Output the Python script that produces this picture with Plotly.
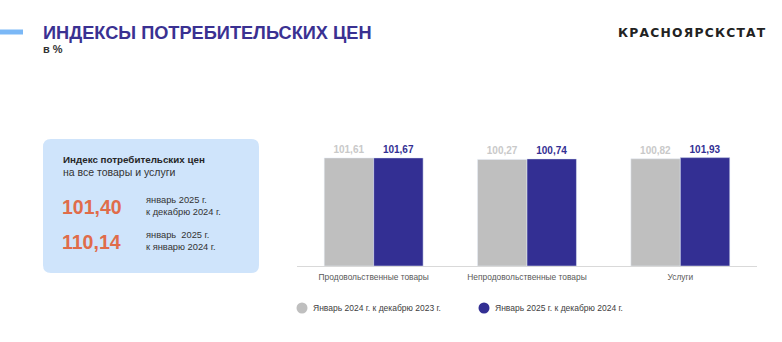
import plotly.graph_objects as go

W, H = 782, 342

categories = ["Продовольственные товары", "Непродовольственные товары", "Услуги"]
series_names = ["Январь 2024 г. к декабрю 2023 г.", "Январь 2025 г. к декабрю 2024 г."]
values_2024 = [101.61, 100.27, 100.82]
values_2025 = [101.67, 100.74, 101.93]
cpi_month = 101.40
cpi_year = 110.14

GRAY = "#bfbfbf"
BLUE = "#332f93"
FONT = "Liberation Sans, Arial, sans-serif"

def px(x):
    return x / W

def py(y):
    return 1 - y / H

def fmt(v):
    return f"{v:.2f}".replace(".", ",")

fig = go.Figure()
fig.add_trace(go.Bar(x=categories, y=values_2024, marker_color=GRAY, name=series_names[0],
                     text=[f"<b>{fmt(v)}</b>" for v in values_2024], textposition="outside",
                     textfont=dict(color="#c9c9c9", size=10, family=FONT),
                     cliponaxis=False, showlegend=False))
fig.add_trace(go.Bar(x=categories, y=values_2025, marker_color=BLUE, name=series_names[1],
                     text=[f"<b>{fmt(v)}</b>" for v in values_2025], textposition="outside",
                     textfont=dict(color=BLUE, size=10, family=FONT),
                     cliponaxis=False, showlegend=False))

shapes = []
# blue accent line
shapes.append(dict(type="line", xref="paper", yref="paper", x0=px(0), x1=px(23), y0=py(32), y1=py(32),
                   line=dict(color="#7bb8f6", width=5)))
# info box with rounded corners
x0, x1, y0, y1, r = 43, 259, 139, 273, 8
path = (f"M {px(x0 + r)},{py(y0)} L {px(x1 - r)},{py(y0)} Q {px(x1)},{py(y0)} {px(x1)},{py(y0 + r)} "
        f"L {px(x1)},{py(y1 - r)} Q {px(x1)},{py(y1)} {px(x1 - r)},{py(y1)} "
        f"L {px(x0 + r)},{py(y1)} Q {px(x0)},{py(y1)} {px(x0)},{py(y1 - r)} "
        f"L {px(x0)},{py(y0 + r)} Q {px(x0)},{py(y0)} {px(x0 + r)},{py(y0)} Z")
shapes.append(dict(type="path", xref="paper", yref="paper", path=path,
                   fillcolor="#cfe4fb", line=dict(width=0), layer="below"))

ann = []
def text(x, y, s, size, color, anchor="left", yanchor="middle", family=FONT):
    ann.append(dict(x=px(x), y=py(y), xref="paper", yref="paper", text=s, showarrow=False,
                    xanchor=anchor, yanchor=yanchor, font=dict(size=size, color=color, family=family)))

# manual legend (circle markers)
legend_x = [302, 484]
for cx, col, name in zip(legend_x, [GRAY, BLUE], series_names):
    shapes.append(dict(type="circle", xref="paper", yref="paper", xsizemode="pixel", ysizemode="pixel",
                       xanchor=px(cx), yanchor=py(308), x0=-5.5, x1=5.5, y0=-5.5, y1=5.5,
                       fillcolor=col, line=dict(width=0)))
    text(cx + 9, 308, name, 8.5, "#404040")

text(41, 33, "<b>ИНДЕКСЫ ПОТРЕБИТЕЛЬСКИХ ЦЕН</b>", 18.2, "#3a3192")
text(41, 49, "<b>в %</b>", 11, "#333333")
text(768, 33, "<b>" + "\u200a".join("КРАСНОЯРСКСТАТ") + "</b>", 12.3, "#222222", anchor="right",
     family="DejaVu Sans, sans-serif")
text(61, 159, "<b>Индекс потребительских цен</b>", 9.8, "#262626")
text(61, 172, "на все товары и услуги", 10.5, "#333333")
text(60, 207, f"<b>{fmt(cpi_month)}</b>", 19.5, "#e06c4a")
text(60, 242, f"<b>{fmt(cpi_year)}</b>", 19.5, "#e06c4a")
text(144, 200, "январь 2025 г.", 9.3, "#333333")
text(144, 212, "к декабрю 2024 г.", 9.3, "#333333")
text(144, 235, "январь  2025 г.", 9.3, "#333333")
text(144, 247, "к январю 2024 г.", 9.3, "#333333")

fig.update_layout(
    width=W, height=H, margin=dict(l=0, r=0, t=0, b=0),
    paper_bgcolor="white", plot_bgcolor="white",
    barmode="group", bargap=0.355, bargroupgap=0,
    shapes=shapes, annotations=ann,
    font=dict(family=FONT),
    xaxis=dict(domain=[px(297), px(757)], showline=True, linecolor="#d9d9d9", linewidth=1,
               ticks="outside", ticklen=3, tickcolor="rgba(0,0,0,0)",
               tickfont=dict(size=8.4, color="#595959"), showgrid=False, fixedrange=True),
    yaxis=dict(domain=[py(266), py(140)], range=[0, 118.5], visible=False, showgrid=False, fixedrange=True),
    showlegend=False,
)

fig.write_html("out.html")
